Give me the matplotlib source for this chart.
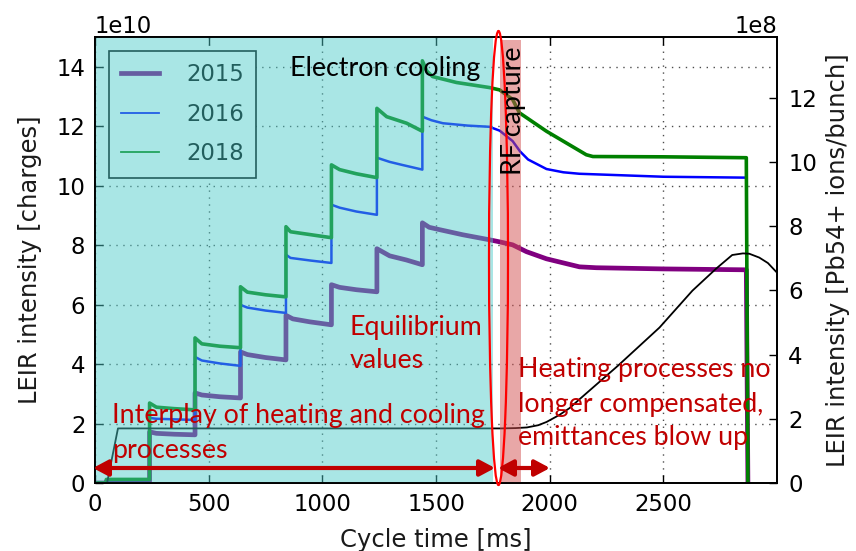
import numpy as np
import matplotlib
matplotlib.use("Agg")
import matplotlib.pyplot as plt
import matplotlib.transforms as mtransforms
from matplotlib.patches import Ellipse, FancyArrowPatch

plt.rcParams["font.family"] = ["DejaVu Sans"]

# LEIR beam intensity along the cycle, in units of 1e10 charges
t_2015 = [0, 50, 50, 240, 240, 270, 350, 440, 440, 470, 550, 640, 640, 670, 750, 840,
          840, 870, 945, 1040, 1040, 1076, 1150, 1240, 1240, 1296, 1370, 1440, 1440, 1470,
          1516, 1617, 1735, 1780, 1837, 1898, 1986, 2131, 2205, 2500, 2865, 2872]
i_2015 = [0, 0, 0.06, 0.06, 1.72, 1.67, 1.64, 1.62, 3.03, 2.96, 2.90, 2.86, 4.41, 4.32, 4.22, 4.14,
          5.64, 5.52, 5.42, 5.32, 6.67, 6.58, 6.50, 6.43, 7.88, 7.64, 7.50, 7.34, 8.75, 8.60,
          8.52, 8.35, 8.18, 8.11, 8.01, 7.78, 7.54, 7.27, 7.24, 7.20, 7.17, 0]

t_2016 = [0, 50, 50, 240, 240, 270, 440, 440, 470, 550, 640, 640, 670, 750, 840, 840, 860, 950,
          1040, 1040, 1076, 1150, 1240, 1240, 1296, 1350, 1440, 1440, 1480, 1530, 1640, 1735,
          1780, 1837, 1870, 1905, 1986, 2060, 2131, 2500, 2865, 2872]
i_2016 = [0, 0, 0.10, 0.10, 2.19, 2.16, 2.12, 4.24, 4.12, 4.02, 3.94, 5.99, 5.90, 5.80, 5.72,
          7.68, 7.57, 7.48, 7.40, 9.36, 9.26, 9.13, 9.02, 10.94, 10.80, 10.70, 10.54, 12.32,
          12.20, 12.10, 12.02, 11.98, 11.85, 11.50, 11.15, 10.88, 10.56, 10.45, 10.40, 10.30,
          10.27, 0]

t_2018 = [0, 50, 50, 240, 240, 270, 350, 440, 440, 470, 550, 640, 640, 670, 750, 840, 840, 860,
          950, 1040, 1040, 1076, 1150, 1240, 1240, 1283, 1371, 1440, 1440, 1460, 1485, 1590,
          1735, 1780, 1837, 1867, 1986, 2161, 2190, 2500, 2865, 2872]
i_2018 = [0, 0, 0.12, 0.12, 2.69, 2.55, 2.50, 2.46, 4.88, 4.68, 4.60, 4.55, 6.60, 6.42, 6.33,
          6.26, 8.62, 8.45, 8.35, 8.25, 10.70, 10.54, 10.40, 10.27, 12.60, 12.32, 12.10, 11.83,
          14.20, 13.85, 13.67, 13.47, 13.30, 13.22, 12.90, 12.45, 11.83, 11.04, 10.98, 10.97,
          10.94, 0]

# Reference cycle curve on the right axis, in units of 1e8
t_cycle = [0, 53, 101, 1790, 1850, 1900, 1950, 1986, 2043, 2087, 2130, 2300, 2483, 2628,
           2733, 2803, 2850, 2878, 2922, 2960, 3000]
v_cycle = [0, 0, 1.70, 1.70, 1.71, 1.73, 1.80, 1.90, 2.12, 2.33, 2.60, 3.65, 4.84, 5.99,
           6.68, 7.10, 7.15, 7.14, 7.02, 6.85, 6.55]

years = ["2015", "2016", "2018"]
year_colors = ["#800080", "#0000ff", "#008000"]
x_ticks = [0, 500, 1000, 1500, 2000, 2500]
left_ticks = [0, 2, 4, 6, 8, 10, 12, 14]
right_ticks = [0, 2, 4, 6, 8, 10, 12]

W, H = 856, 551
fig = plt.figure(figsize=(W / 100, H / 100), dpi=100)
ax = fig.add_axes([95 / W, 1 - 483 / H, 682 / W, 446 / H])
ax2 = ax.twinx()

# pixel-based transform (origin top-left) for the slide annotations
px = mtransforms.Affine2D().scale(1 / W, -1 / H).translate(0, 1) + fig.transFigure

series = [(t_2015, i_2015, 3.4), (t_2016, i_2016, 1.8), (t_2018, i_2018, 2.6)]
for (t, v, lw), name, col in zip(series, years, year_colors):
    ax.plot(t, np.array(v) * 1e10, color=col, lw=lw, label=name, zorder=2)

tick_size = 16.4
ax.set_xlim(0, 3000)
ax.set_ylim(0, 15e10)
ax.set_xticks(x_ticks)
ax.set_yticks(np.array(left_ticks) * 1e10)
ax.ticklabel_format(axis="y", style="sci", scilimits=(10, 10))
ax.grid(True, color="0.3", linestyle=(0, (1, 4)), lw=1.0)
ax.tick_params(axis="both", direction="in", length=6, width=1, labelsize=tick_size,
               top=True, pad=7)
ax.yaxis.get_offset_text().set_fontsize(tick_size)

ax2.plot(t_cycle, np.array(v_cycle) * 1e8, color="k", lw=1.3, zorder=1.5)
ax2.set_ylim(0, 15e10 / 108)
ax2.set_yticks(np.array(right_ticks) * 1e8)
ax2.ticklabel_format(axis="y", style="sci", scilimits=(8, 8))
ax2.tick_params(axis="y", direction="in", length=6, width=1, labelsize=tick_size, pad=8)
ax2.yaxis.get_offset_text().set_fontsize(tick_size)

for a in (ax, ax2):
    for s in a.spines.values():
        s.set_linewidth(1.3)

leg = ax.legend(loc="upper left", fontsize=tick_size, frameon=True, fancybox=False,
                edgecolor="k", framealpha=1, handlelength=1.65, handletextpad=1.2,
                borderpad=0.55, labelspacing=0.72, borderaxespad=0.6)
leg.get_frame().set_linewidth(1.2)
for line, lw in zip(leg.get_lines(), [3.4, 1.3, 1.3]):
    line.set_linewidth(lw)

# electron-cooling phase and RF-capture window
ax2.axvspan(0, 1750, facecolor=(74 / 255, 202 / 255, 200 / 255), alpha=0.47, lw=0, zorder=2)
ax2.axvspan(1780, 1872, ymax=0.993, facecolor="#d25050", alpha=0.5, lw=0, zorder=2)

fig.add_artist(Ellipse((498.5, 258), 19, 454, transform=px, fill=False,
                       edgecolor="red", lw=1.6, zorder=5))

dark_red = "#c00000"
for xa, xb in [(93, 495), (498, 550)]:
    fig.add_artist(FancyArrowPatch((xa, 468), (xb, 468), transform=px,
                                   arrowstyle="<|-|>,head_length=0.45,head_width=0.24",
                                   mutation_scale=20, color=dark_red, lw=3,
                                   shrinkA=0, shrinkB=0, zorder=5))

slide_font = ["Lato", "DejaVu Sans"]


def note(s, x, y, color, size=19.3, family=slide_font, **kw):
    fig.text(x, y, s, transform=px, color=color, fontsize=size, family=family,
             ha=kw.pop("ha", "left"), va="baseline", zorder=6, **kw)


note("Electron cooling", 290, 76, "black")
note("Interplay of heating and cooling", 112, 423, dark_red)
note("processes", 112, 458, dark_red)
note("Equilibrium", 350, 335, dark_red)
note("values", 350, 368, dark_red)
note("Heating processes no", 518, 377, dark_red)
note("longer compensated,", 518, 412, dark_red)
note("emittances blow up", 518, 445, dark_red)
note("RF capture", 521, 175, "black", rotation=90, rotation_mode="anchor")

label_font = ["DejaVu Sans"]
note("Cycle time [ms]", 436, 547, "#1a1a1a", size=17.5, family=label_font, ha="center")
note("LEIR intensity [charges]", 37, 260, "#1a1a1a", size=17.5, family=label_font,
     ha="center", rotation=90, rotation_mode="anchor")
note("LEIR intensity [Pb54+ ions/bunch]", 845, 260.5, "#1a1a1a", size=17.5,
     family=label_font, ha="center", rotation=90, rotation_mode="anchor")

fig.savefig("out.png", dpi=100)
